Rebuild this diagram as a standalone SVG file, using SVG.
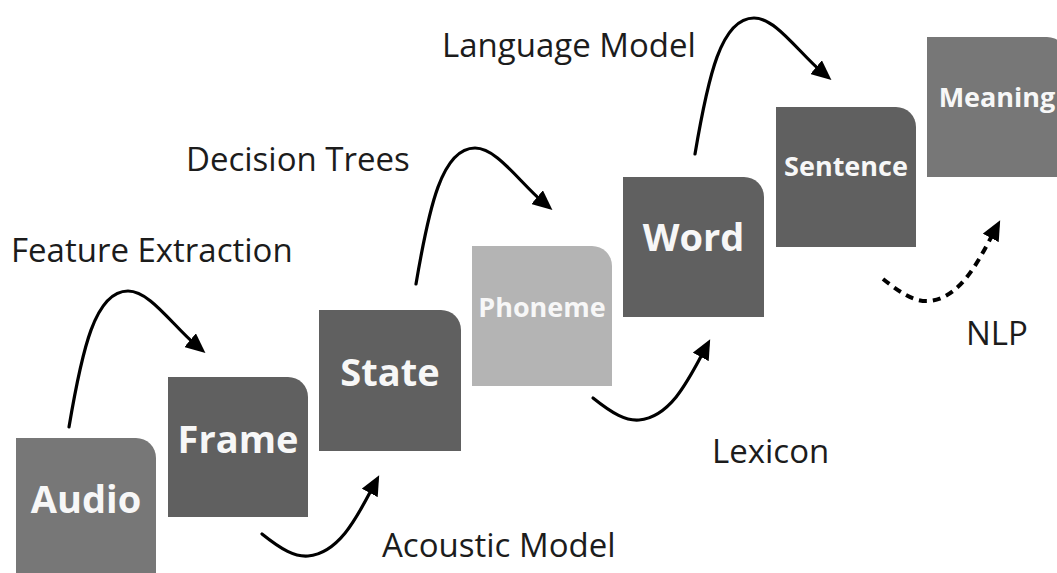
<svg xmlns="http://www.w3.org/2000/svg" width="1057" height="573" viewBox="0 0 1057 573">
  <style>
    .box-dark { fill: #606060; }
    .box-mid { fill: #777777; }
    .box-light { fill: #b4b4b4; }
    .node-text { font-family: "Open Sans", "Liberation Sans", sans-serif; font-weight: 700; fill: #f7f7f7; text-anchor: middle; }
    .big { font-size: 38px; }
    .small { font-size: 27px; }
    .label { font-family: "Open Sans", "Liberation Sans", sans-serif; font-size: 33px; fill: #1c1c1c; }
    .link { fill: none; stroke: #000; stroke-width: 3.2; stroke-linecap: round; marker-end: url(#head); }
    .dashed { stroke-width: 4; stroke-dasharray: 8 6; stroke-linecap: butt; }
  </style>
  <defs>
    <marker id="head" markerUnits="userSpaceOnUse" markerWidth="20" markerHeight="18" viewBox="0 0 20 18" refX="9" refY="9" orient="auto">
      <path d="M0,0 L20,9 L0,18 Z" fill="#000"/>
    </marker>
  </defs>

  <rect width="1057" height="573" fill="#ffffff"/>

  <!-- stage blocks: 140x140, rounded top-right corner -->
  <g id="audio">
    <path class="box-mid" d="M16,438 H136 A20,20 0 0 1 156,458 V580 H16 Z"/>
    <text class="node-text big" x="86" y="513">Audio</text>
  </g>
  <g id="frame">
    <path class="box-dark" d="M168,377 H288 A20,20 0 0 1 308,397 V517 H168 Z"/>
    <text class="node-text big" x="238" y="453">Frame</text>
  </g>
  <g id="state">
    <path class="box-dark" d="M319,310 H441 A20,20 0 0 1 461,330 V451 H319 Z"/>
    <text class="node-text big" x="390" y="386">State</text>
  </g>
  <g id="phoneme">
    <path class="box-light" d="M472,246 H592 A20,20 0 0 1 612,266 V386 H472 Z"/>
    <text class="node-text small" x="542" y="317">Phoneme</text>
  </g>
  <g id="word">
    <path class="box-dark" d="M623,177 H744 A20,20 0 0 1 764,197 V317 H623 Z"/>
    <text class="node-text big" x="693.5" y="251">Word</text>
  </g>
  <g id="sentence">
    <path class="box-dark" d="M776,107 H896 A20,20 0 0 1 916,127 V247 H776 Z"/>
    <text class="node-text small" x="846" y="176">Sentence</text>
  </g>
  <g id="meaning">
    <path class="box-mid" d="M927,37 H1047 A20,20 0 0 1 1067,57 V177 H927 Z"/>
    <text class="node-text small" x="997" y="107">Meaning</text>
  </g>

  <!-- connectors -->
  <g id="connectors">
    <path class="link" d="M69,427 C82,350 95,291 128,291 C150,291 172,325 197,346"/>
    <path class="link" transform="translate(347,-143)" d="M69,427 C82,350 95,291 128,291 C150,291 172,325 197,346"/>
    <path class="link" transform="translate(626,-273)" d="M69,427 C82,350 95,291 128,291 C150,291 172,325 197,346"/>
    <path class="link" d="M262,534 C282,550 295,557 308,556 C340,553 358,515 374,485"/>
    <path class="link" transform="translate(331,-136)" d="M262,534 C282,550 295,557 308,556 C340,553 358,515 374,485"/>
    <path class="link dashed" transform="translate(621,-255)" d="M262,534 C282,550 295,557 308,556 C340,553 358,515 374,485"/>
  </g>

  <!-- step labels -->
  <g id="labels">
    <text class="label" x="11" y="262">Feature Extraction</text>
    <text class="label" x="186" y="171">Decision Trees</text>
    <text class="label" x="442" y="57">Language Model</text>
    <text class="label" x="382" y="557">Acoustic Model</text>
    <text class="label" x="712" y="463">Lexicon</text>
    <text class="label" x="966" y="345">NLP</text>
  </g>
</svg>
